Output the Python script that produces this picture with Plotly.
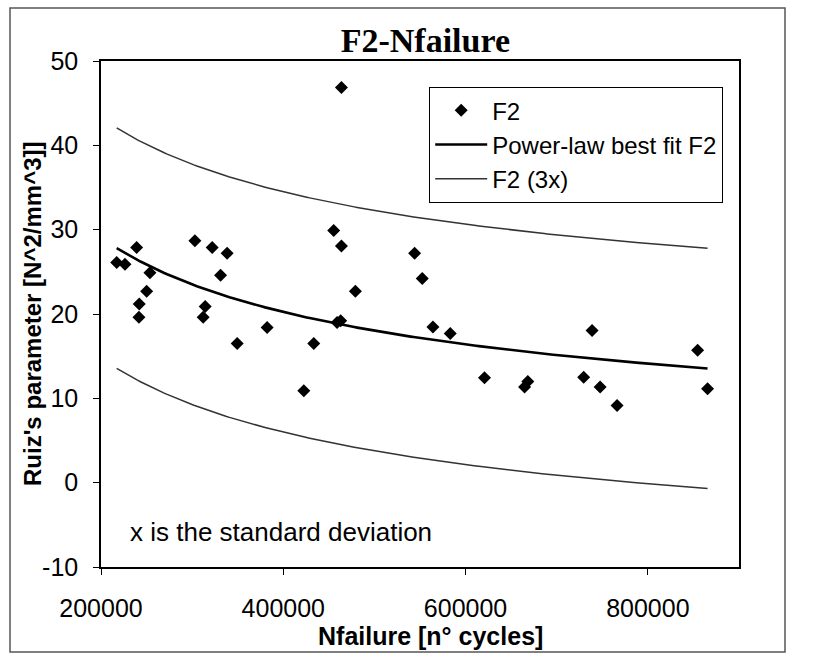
import numpy as np
import plotly.graph_objects as go

# Data
n_failure = [217200, 226300, 239100, 253700, 250100, 242000, 241600,
             303000, 322000, 338400, 331200, 314300, 312100, 349400,
             382300, 422500, 433400, 455300, 463800, 479100, 459000,
             463000, 463800, 544100, 552500, 564200, 583200, 620800,
             668300, 664700, 738800, 729600, 747600, 766200, 854600,
             865500]
ruiz_f2 = [26.1, 25.9, 27.9, 24.9, 22.7, 21.2, 19.6,
           28.7, 27.9, 27.2, 24.6, 20.9, 19.6, 16.5,
           18.4, 10.9, 16.5, 29.9, 28.05, 22.7, 19.0,
           19.2, 46.85, 27.2, 24.2, 18.45, 17.7, 12.45,
           12.0, 11.35, 18.05, 12.5, 11.35, 9.15, 15.7,
           11.15]

# standard deviation "x" of F2, read from the gap between the fit and the 3x band
std_dev_f2 = 4.75

x_ticks = [200000, 400000, 600000, 800000]
x_tick_labels = ["200000", "400000", "600000", "800000"]
y_ticks = [-10, 0, 10, 20, 30, 40, 50]
y_tick_labels = ["-10", "0", "10", "20", "30", "40", "50"]

# Power-law best fit (least squares in log-log space, as a spreadsheet trendline)
lx = np.log(np.array(n_failure, dtype=float))
ly = np.log(np.array(ruiz_f2, dtype=float))
b, ln_a = np.polyfit(lx, ly, 1)
a = np.exp(ln_a)
xs = np.linspace(min(n_failure), max(n_failure), 200)
fit = a * xs ** b

fig = go.Figure()
fig.add_trace(go.Scatter(x=n_failure, y=ruiz_f2, mode="markers", name="F2",
                         marker=dict(symbol="diamond", size=10, color="black")))
fig.add_trace(go.Scatter(x=xs, y=fit, mode="lines", name="Power-law best fit F2",
                         line=dict(color="black", width=2.6)))
fig.add_trace(go.Scatter(x=xs, y=fit + 3 * std_dev_f2, mode="lines", name="F2 (3x)",
                         line=dict(color="#333333", width=1.5)))
fig.add_trace(go.Scatter(x=xs, y=fit - 3 * std_dev_f2, mode="lines", name="F2 (3x) low",
                         showlegend=False, line=dict(color="#333333", width=1.5)))

sans = "Liberation Sans, Arial, sans-serif"
W, H = 818, 659
L, R, T, B = 101, 79, 61, 92
PW, PH = W - L - R, H - T - B


def px(x):
    return (x - L) / PW


def py(y):
    return (H - B - y) / PH


fig.update_layout(
    width=W, height=H,
    margin=dict(l=L, r=R, t=T, b=B),
    paper_bgcolor="white", plot_bgcolor="white",
    font=dict(family=sans, size=24, color="black"),
    title=dict(text="<b>F2-Nfailure</b>", x=0.52, xanchor="center", y=1 - 40 / H, yanchor="middle",
               font=dict(family="Liberation Serif, Times New Roman, serif", size=34, color="black")),
    xaxis=dict(range=[200000, 900000], tickvals=x_ticks, ticktext=x_tick_labels,
               showgrid=False, zeroline=False, showline=True, linecolor="black", linewidth=1.5,
               mirror=True, ticks="outside", ticklen=6, tickwidth=1.2, tickcolor="black",
               tickfont=dict(size=25), ticklabelstandoff=12),
    yaxis=dict(range=[-10, 50], tickvals=y_ticks, ticktext=y_tick_labels,
               showgrid=False, zeroline=False,
               showline=True, linecolor="black", linewidth=1.5, mirror=True,
               ticks="outside", ticklen=6, tickwidth=1.2, tickcolor="black",
               tickfont=dict(size=25), ticklabelstandoff=10),
    legend=dict(x=px(429), y=py(87), xanchor="left", yanchor="top",
                bgcolor="white", bordercolor="black", borderwidth=1.2,
                font=dict(size=24), tracegroupgap=0, itemwidth=52),
    showlegend=True,
)

# axis titles
fig.add_annotation(text="<b>Nfailure [n° cycles]</b>", xref="paper", yref="paper",
                   x=px(430), y=py(636), xanchor="center", yanchor="middle",
                   showarrow=False, font=dict(size=25, color="black"))
fig.add_annotation(text="<b>Ruiz's parameter [N^2/mm^3]]</b>", xref="paper", yref="paper",
                   x=px(32), y=0.5, xanchor="center", yanchor="middle", textangle=-90,
                   showarrow=False, font=dict(size=24, color="black"))

fig.add_annotation(text="x is the standard deviation", xref="paper", yref="paper",
                   x=px(128), y=py(532), xanchor="left", yanchor="middle",
                   showarrow=False, font=dict(size=26, color="black"))

# outer chart frame
fig.add_shape(type="rect", xref="paper", yref="paper",
              x0=px(10), x1=px(785), y0=py(652), y1=py(8),
              line=dict(color="#555555", width=1.5))

fig.write_html("out.html")
